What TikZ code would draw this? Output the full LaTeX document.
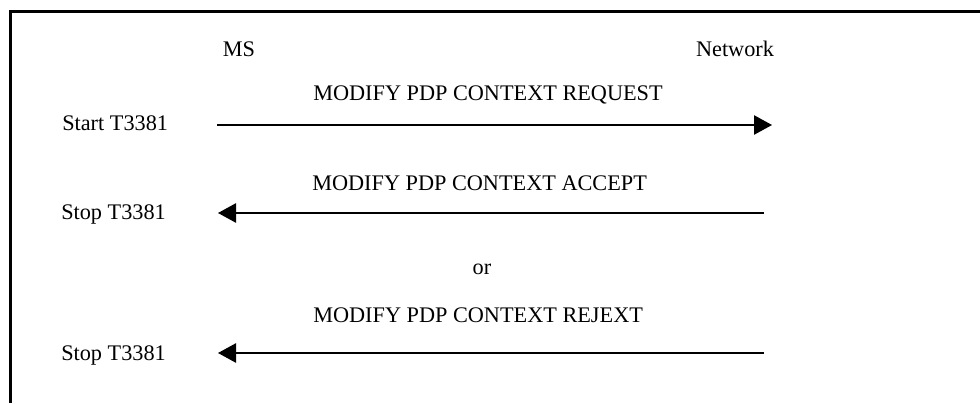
\documentclass[tikz,border=0pt]{standalone}
\usepackage{fontspec}
\setmainfont{Liberation Serif}
\usetikzlibrary{arrows.meta}
\begin{document}
\begin{tikzpicture}[x=0.75pt,y=-0.75pt,
  lbl/.style={inner sep=0pt,font=\fontsize{16.7}{20}\selectfont},
  frameline/.style={line width=2.3pt},
  msg/.style={line width=1.1pt,-{Triangle[length=13.5pt,width=14.5pt]}}]
\useasboundingbox (0,0) rectangle (980,403);
% frame (top and left edges)
\draw[frameline] (980,11.5) -- (10.5,11.5) -- (10.5,403);
% entities
\node[lbl,anchor=base] (ms) at (239,56) {MS};
\node[lbl,anchor=base] (net) at (735,56) {Network};
% message 1
\node[lbl,anchor=base] (req) at (488,100) {MODIFY PDP CONTEXT REQUEST};
\node[lbl,anchor=base west] (start) at (62,130) {Start T3381};
\coordinate (r1) at (217,125);
\coordinate (r2) at (772,125);
\draw[msg] (r1) -- (r2);
% message 2
\node[lbl,anchor=base west] (acc) at (312,190) {MODIFY PDP CONTEXT ACCEPT};
\node[lbl,anchor=base west] (stop1) at (61,219) {Stop T3381};
\coordinate (a1) at (764,213);
\coordinate (a2) at (218,213);
\draw[msg] (a1) -- (a2);
% or
\node[lbl,anchor=base] (or) at (482,274) {or};
% message 3
\node[lbl,anchor=base west] (rej) at (313,322) {MODIFY PDP CONTEXT REJEXT};
\node[lbl,anchor=base west] (stop2) at (61,360) {Stop T3381};
\coordinate (j1) at (764,353);
\coordinate (j2) at (218,353);
\draw[msg] (j1) -- (j2);
\end{tikzpicture}
\end{document}
